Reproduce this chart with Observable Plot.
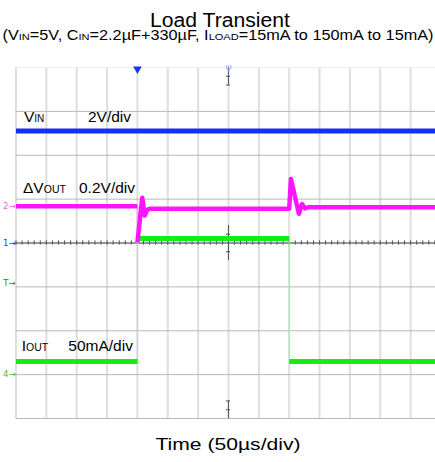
<!DOCTYPE html>
<html>
<head>
<meta charset="utf-8">
<script src="https://cdn.jsdelivr.net/npm/d3@7"></script>
<script src="https://cdn.jsdelivr.net/npm/@observablehq/plot@0.6"></script>
<style>
  html, body { margin: 0; padding: 0; background: #fff; }
  #chart { position: relative; width: 435px; height: 462px; overflow: hidden;
           font-family: "Liberation Sans", Arial, sans-serif; color: #000; }
  .txt { position: absolute; white-space: nowrap; transform-origin: center; }
  .txt sub { font-size: 0.68em; vertical-align: baseline; line-height: 0; }
  #title { top: 11.8px; left: 220px; font-size: 20px; line-height: 16px; }
  #subtitle { top: 29px; left: 217.5px; font-size: 14px; line-height: 12px; }
  #caption { top: 435.6px; left: 227.5px; font-size: 17px; line-height: 17px; }
  #plot { position: absolute; left: 0; top: 50px; }
</style>
</head>
<body>
<div id="chart">
  <div id="title" class="txt" data-width="140">Load Transient</div>
  <div id="subtitle" class="txt" data-width="431">(V<sub>IN</sub>=5V, C<sub>IN</sub>=2.2µF+330µF, I<sub>LOAD</sub>=15mA to 150mA to 15mA)</div>
  <div id="plot"></div>
  <div id="caption" class="txt" data-width="145">Time (50µs/div)</div>
</div>
<script>
// Time base: 50 µs per division; the trigger sits at -150 µs.
const usPerDiv = 50;
const gridTimes = [-350, -300, -250, -200, -150, -100, -50, 0, 50, 100, 150, 200, 250, 300];
const gridDivs = [-4, -3, -2, -1, 0, 1, 2, 3];

// Channel 1: V_IN, 2 V/div, ground marker on the centre line
const vinScale = 2;       // V per div
const vinOffset = 0;      // div
const vinTime = [-350, 341];
const vinVolts = [5.1, 5.1];

// Channel 2: ΔV_OUT, 0.2 V/div (values in mV)
const voutScale = 200;    // mV per div
const voutOffset = 0.84;  // div
const voutTime = [-350, -150, -150, -142, -138, -134, -130, 100, 102.8, 116, 121, 126, 131, 341];
const voutMv   = [0,    0,    -165, 38,   -43,  -17,  -12,  -12, 124,   -35, 10,  -10, -5,  -5];

// Channel 4: I_OUT, 50 mA/div
const ioutScale = 50;     // mA per div
const ioutOffset = -3.0;  // div
const ioutTime = [-350, -150, -150, 100, 100, 341];
const ioutMa   = [15,   15,   155,  155, 15,  15];

// Channel reference markers on the left edge
const markerText = ["2→", "1→", "T→", "4→"];
const markerDiv = [voutOffset, vinOffset, -0.92, ioutOffset];
const markerColor = ["#f060f0", "#2040f0", "#2a8a2a", "#40c040"];

// Build trace rows; a new segment starts at every vertical edge
function trace(times, values, scale, offset) {
  let seg = 0;
  return times.map((t, i) => {
    if (i > 0 && t === times[i - 1]) seg++;
    return {t, y: offset + values[i] / scale, seg};
  });
}
const vin = trace(vinTime, vinVolts, vinScale, vinOffset);
const vout = trace(voutTime, voutMv, voutScale, voutOffset);
const iout = trace(ioutTime, ioutMa, ioutScale, ioutOffset);

const minorTimes = d3.range(-350, 341, usPerDiv / 5);
const centreTicks = [3.8, 3.6, 0.2, -0.2, -3.6, -3.8];
const dark = "#555";

const chart = Plot.plot({
  width: 435, height: 380,
  marginTop: 17, marginBottom: 12, marginLeft: 15.5, marginRight: 0,
  style: {background: "transparent", overflow: "visible"},
  x: {domain: [-350, 341], axis: null},
  y: {domain: [-4, 4], axis: null},
  marks: [
    Plot.ruleX(gridTimes, {stroke: "#dedede", strokeWidth: 2}),
    Plot.ruleY(gridDivs, {stroke: "#b8b8b8", strokeWidth: 1}),
    Plot.ruleY([4], {stroke: "#ececec", strokeWidth: 1}),
    // centre graticule with minor ticks
    Plot.ruleY([0], {stroke: dark, strokeWidth: 1}),
    Plot.ruleX(minorTimes, {y1: -0.05, y2: 0.05, stroke: dark}),
    Plot.ruleX([0, 0, 0], {y1: [3.6, -0.4, -4], y2: [4, 0.4, -3.6], stroke: dark}),
    Plot.ruleY(centreTicks, {x1: -3.5, x2: 3.5, stroke: dark}),
    // traces: thin line through every point, thick band on the settled parts
    Plot.line(vin, {x: "t", y: "y", z: "seg", stroke: "#1530f0", strokeWidth: 5, strokeLinecap: "butt", clip: true}),
    Plot.line(iout, {x: "t", y: "y", stroke: "#9cf59c", strokeWidth: 1.2, clip: true}),
    Plot.line(iout, {x: "t", y: "y", z: "seg", stroke: "#14ee14", strokeWidth: 5, strokeLinecap: "butt", clip: true}),
    Plot.line(vout, {x: "t", y: "y", stroke: "#f6a0f6", strokeWidth: 1.5, clip: true}),
    Plot.line(vout, {x: "t", y: "y", z: "seg", stroke: "#ff14ff", strokeWidth: 4.5, strokeLinecap: "butt", clip: true}),
    // trigger position and time reference markers
    Plot.dot([-150], {x: (d) => d, y: 4, symbol: "triangle", rotate: 180, r: 3.2, dy: 1.5, fill: "#1838e8", stroke: null}),
    Plot.text(["Ψ"], {x: 0, y: 4, text: (d) => d, dy: 2, fontSize: 8, fill: "#7b9cf0"}),
    // channel markers
    Plot.text(markerText, {x: -350, y: (d, i) => markerDiv[i], text: (d) => d, dx: -0.5,
      textAnchor: "end", fontSize: 8.5, fontFamily: "DejaVu Sans", fill: (d, i) => markerColor[i]})
  ]
});
document.getElementById("plot").appendChild(chart);

// Channel labels with subscripts, placed through the plot scales
const sx = chart.scale("x"), sy = chart.scale("y");
const svg = d3.select(chart);
const labels = [
  {t: -336, y: 2.745, parts: [["V", 15.5], ["IN", 10]], scaleText: "2V/div", st: -230.6},
  {t: -337.6, y: 1.12, parts: [["ΔV", 15.5], ["OUT", 10.5]], scaleText: "0.2V/div", st: -245.4},
  {t: -339.8, y: -2.465, parts: [["I", 15.5], ["OUT", 10.5]], scaleText: "50mA/div", st: -263}
];
for (const l of labels) {
  const t = svg.append("text")
    .attr("x", sx.apply(l.t)).attr("y", sy.apply(l.y)).attr("text-anchor", "start")
    .attr("font-family", "Liberation Sans, Arial, sans-serif").attr("fill", "#000");
  for (const [s, fs] of l.parts) t.append("tspan").attr("font-size", fs).text(s);
  svg.append("text")
    .attr("x", sx.apply(l.st)).attr("y", sy.apply(l.y)).attr("text-anchor", "start")
    .attr("font-family", "Liberation Sans, Arial, sans-serif").attr("font-size", 15.5)
    .attr("fill", "#000").text(l.scaleText);
}

// Centre each heading line on its anchor and stretch it to its set width
for (const el of document.querySelectorAll(".txt")) {
  const w = el.getBoundingClientRect().width;
  const k = +el.dataset.width / w;
  el.style.transform = `translateX(-50%) scaleX(${k})`;
}
</script>
</body>
</html>
